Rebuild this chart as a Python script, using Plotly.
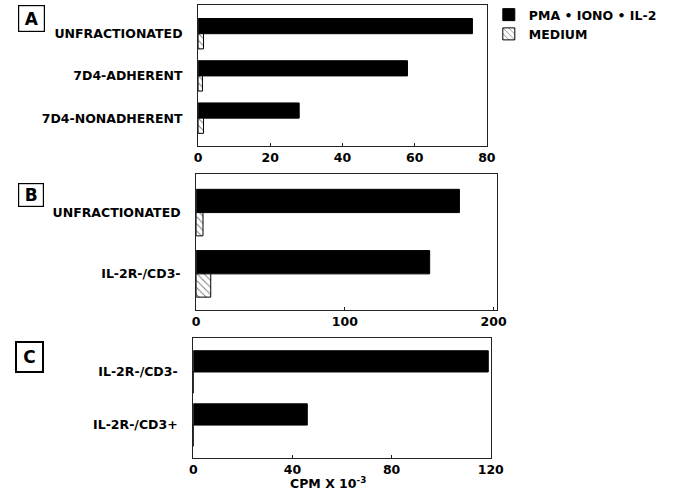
import plotly.graph_objects as go

# ---------------- data ----------------
a_cats = ["UNFRACTIONATED", "7D4-ADHERENT", "7D4-NONADHERENT"]
a_stim = [76, 58, 28]
a_med = [1.5, 1.2, 1.5]
a_ticks = [0, 20, 40, 60, 80]

b_cats = ["UNFRACTIONATED", "IL-2R-/CD3-"]
b_stim = [177, 157]
b_med = [4.6, 9.8]
b_ticks = [0, 100, 200]

c_cats = ["IL-2R-/CD3-", "IL-2R-/CD3+"]
c_stim = [119, 46]
c_med = [0, 0]
c_ticks = [0, 40, 80, 120]

series_names = ["PMA \u2022 IONO \u2022 IL-2", "MEDIUM"]
panel_letters = ["A", "B", "C"]
x_title = "CPM X 10<sup>-3</sup>"

# ---------------- layout helpers ----------------
W, H = 693, 498
def fx(p):
    return p / W
def fy(p):
    return 1 - p / H

FONT = "DejaVu Sans"
tfont = dict(family=FONT, size=12.5, color="black", weight="bold")

stim_marker = dict(color="black", line=dict(color="black", width=1))
med_marker = dict(color="white", line=dict(color="black", width=1),
                  pattern=dict(shape="\\", fgcolor="black", bgcolor="white",
                               size=5, solidity=0.2))

fig = go.Figure()

panels = [
    # cats, stim, med, ticks, xdom(px), ydom(px top,bottom), yrange, barw, xrange
    (a_cats, a_stim, a_med, a_ticks, (199, 495), (5, 146), [2.66, -0.68], 0.36, [0, 80]),
    (b_cats, b_stim, b_med, b_ticks, (197, 505), (174, 310), [1.59, -0.63], 0.38, [0, 202]),
    (c_cats, c_stim, c_med, c_ticks, (194, 499), (338, 458), [1.62, -0.64], 0.40, [0, 120]),
]

for i, (cats, stim, med, ticks, xd, yd, yr, bw, xr) in enumerate(panels):
    sfx = "" if i == 0 else str(i + 1)
    fig.add_trace(go.Bar(x=stim, y=cats, orientation="h", name=series_names[0],
                         marker=stim_marker, width=bw, offset=-bw,
                         xaxis="x" + sfx, yaxis="y" + sfx, showlegend=(i == 0)))
    fig.add_trace(go.Bar(x=med, y=cats, orientation="h", name=series_names[1],
                         marker=med_marker, width=bw, offset=0,
                         xaxis="x" + sfx, yaxis="y" + sfx, showlegend=(i == 0)))
    fig.update_layout(**{
        "xaxis" + sfx: dict(domain=[fx(xd[0]), fx(xd[1])], anchor="y" + sfx,
                            range=xr, tickvals=ticks, showline=True, mirror=True,
                            linecolor="#222", linewidth=1.2, ticks="inside",
                            ticklen=3, tickcolor="#222", showgrid=False,
                            zeroline=False, tickfont=tfont, fixedrange=True),
        "yaxis" + sfx: dict(domain=[fy(yd[1]), fy(yd[0])], anchor="x" + sfx,
                            type="category", range=yr, showline=True, mirror=True,
                            linecolor="#222", linewidth=1.2, ticks="",
                            showgrid=False, zeroline=False, tickfont=tfont,
                            ticklabelstandoff=12, fixedrange=True),
    })

# panel letters in boxes
boxes = [(28.5, 18.5, 23, 23, 1.2), (28, 195, 22, 20, 1.2), (26, 356.5, 23, 26, 2)]
for letter, (cx, cy, w, h, bwid) in zip(panel_letters, boxes):
    fig.add_annotation(text=letter, x=fx(cx), y=fy(cy), xref="paper", yref="paper",
                       xanchor="center", yanchor="middle", showarrow=False,
                       width=w, height=h, borderpad=1, bordercolor="black",
                       borderwidth=bwid, font=dict(family=FONT, size=17,
                                                   color="black", weight="bold"))

fig.add_annotation(text=x_title, x=fx(332), y=fy(483), xref="paper", yref="paper",
                   xanchor="center", yanchor="middle", showarrow=False,
                   font=tfont)

fig.update_layout(
    width=W, height=H, margin=dict(l=0, r=0, t=0, b=0),
    paper_bgcolor="white", plot_bgcolor="white",
    barmode="overlay",
    legend=dict(x=fx(497), y=1.0, xanchor="left", yanchor="top",
                font=tfont, bgcolor="rgba(0,0,0,0)", tracegroupgap=0,
                itemwidth=30),
)

post = ("var gd=document.getElementById('{plot_id}');"
        "gd.style.position='fixed';gd.style.top='0';gd.style.left='0';"
        "document.body.style.margin='0';"
        "document.documentElement.style.overflow='hidden';"
        "document.body.style.overflow='hidden';")

fig.write_html("out.html", config={"displayModeBar": False}, post_script=post)
